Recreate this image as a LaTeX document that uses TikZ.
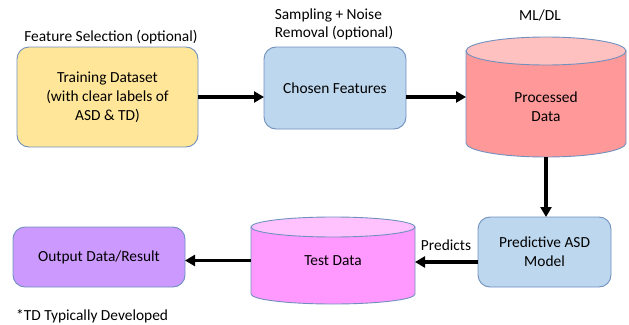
\documentclass[tikz,border=0pt]{standalone}
\usepackage{fontspec}
\setmainfont{Carlito}
\usetikzlibrary{arrows.meta,positioning}

\definecolor{edgeblue}{RGB}{112,144,190}
\definecolor{trainyellow}{RGB}{255,230,153}
\definecolor{featblue}{RGB}{189,215,238}
\definecolor{outpurple}{RGB}{204,153,255}
\definecolor{procbody}{RGB}{255,153,153}
\definecolor{proctop}{RGB}{255,192,192}
\definecolor{testbody}{RGB}{255,153,255}
\definecolor{testtop}{RGB}{255,194,255}

% drum: node name, body colour, lid colour, x radius, y radius
\newcommand{\drum}[5]{%
  \draw[edgeblue, line width=0.9pt, fill=#2]
    ([yshift=-#5pt]#1.north west) -- ([yshift=#5pt]#1.south west)
    arc[start angle=180, end angle=360, x radius=#4pt, y radius=#5pt]
    -- ([yshift=-#5pt]#1.north east) -- cycle;
  \draw[edgeblue, line width=0.9pt, fill=#3]
    ([yshift=-#5pt]#1.north) ellipse[x radius=#4pt, y radius=#5pt];
}

\begin{document}
\begin{tikzpicture}[x=1pt, y=-1pt,
  every node/.style={font=\fontsize{15.4}{18.8}\selectfont},
  stepbox/.style={draw=edgeblue, line width=0.9pt, rounded corners=12pt, align=center, outer sep=0pt},
  drumbox/.style={inner sep=0pt, outer sep=0pt},
  flow/.style={line width=3.6pt, -{Triangle[length=10pt,width=11pt]}},
  note/.style={inner sep=1pt}]

\useasboundingbox (0,0) rectangle (629,324);

% top row
\node[stepbox, fill=trainyellow, minimum width=181, minimum height=100] (train) at (107.5,97)
  {Training Dataset\\(with clear labels of\\ASD \& TD)};
\node[stepbox, fill=featblue, minimum width=142, minimum height=82] (chosen) at (335,88) {Chosen Features};
\node[drumbox, minimum width=160, minimum height=120] (proc) at (546,97) {};
\drum{proc}{procbody}{proctop}{80}{14}
\node[align=center] (proctext) at ([yshift=-10pt]proc.center) {Processed\\Data};

% bottom row
\node[stepbox, fill=featblue, minimum width=133, minimum height=70] (pred) at (544.5,252) {Predictive ASD\\Model};
\node[drumbox, minimum width=164, minimum height=87] (test) at (333,260.5) {};
\drum{test}{testbody}{testtop}{82}{10}
\node (testtext) at (test.center) {Test Data};
\node[stepbox, fill=outpurple, minimum width=172, minimum height=60] (out) at (99,257) {Output Data/Result};

% captions
\node[note] (fsel) at (111,37) {Feature Selection (optional)};
\node[note, align=left] (samp) at (334,24.5) {Sampling + Noise\\[-1.5pt]Removal (optional)};
\node[note] (mldl) at (540,15) {ML/DL};
\node[note] (predicts) at (446,245) {Predicts};
\node[note, anchor=west] (tdnote) at (15,316) {*TD Typically Developed};

% arrows
\draw[flow] (train.east) -- (train.east -| chosen.west);
\draw[flow] (proc.west -| chosen.east) -- (proc.west);
\draw[flow] (proc.south) -- (proc.south |- pred.north);
\draw[flow] ([yshift=-10pt]pred.west) -- ([yshift=-10pt]pred.west -| test.east);
\draw[flow] (test.west) -- (test.west -| out.east);
\end{tikzpicture}
\end{document}
